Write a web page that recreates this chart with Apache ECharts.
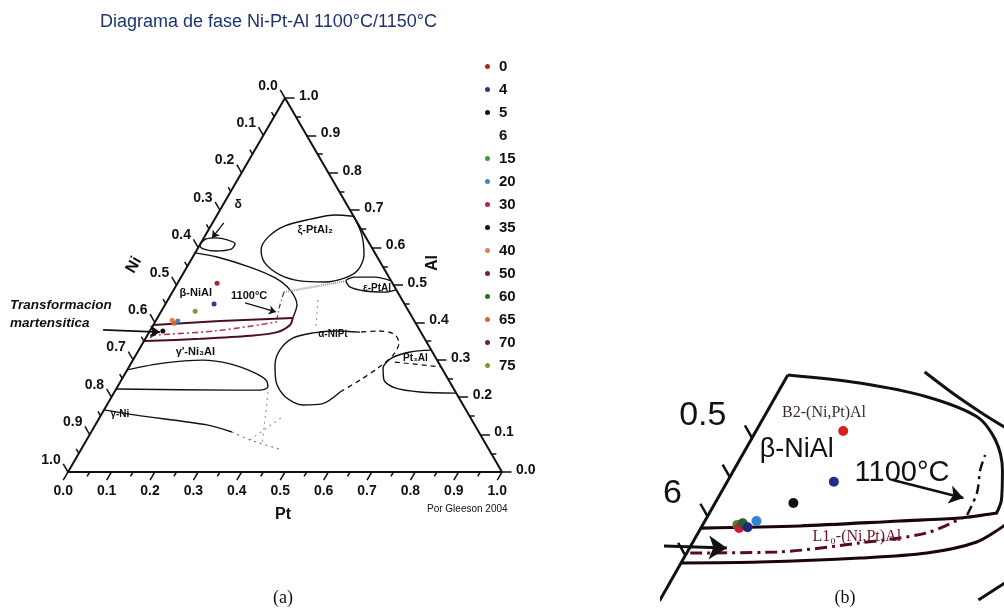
<!DOCTYPE html>
<html><head><meta charset="utf-8">
<script src="https://cdn.jsdelivr.net/npm/echarts@6/dist/echarts.min.js"></script>
<style>html,body{margin:0;padding:0;background:#fff}#c{width:1004px;height:616px}</style>
</head><body><div id="c"></div>
<script>
// ---------- legend / series names ----------
const legendLabels = ['0','4','5','6','15','20','30','35','40','50','60','65','70','75'];
const legendColors = ['#a8262c','#2c3a88','#151515','#ffffff','#4a9448','#3f86c8','#a8284e','#151515','#d9825a','#6a2250','#2e6a2e','#d8603e','#6c2038','#8e952e'];

// ---------- ternary axis ticks ----------
const tickValues = [0.0,0.1,0.2,0.3,0.4,0.5,0.6,0.7,0.8,0.9,1.0];
const tickLabels = ['0.0','0.1','0.2','0.3','0.4','0.5','0.6','0.7','0.8','0.9','1.0'];
const minorTickValues = [0.05,0.15,0.25,0.35,0.45,0.55,0.65,0.75,0.85,0.95];

// ---------- panel (a): phase boundaries, compositions [Pt, Al] ----------
const triangleEdges = [[0,0],[1,0],[0,1],[0,0]];
const deltaLoop = [[0.000,0.612],[0.006,0.623],[0.028,0.626],[0.059,0.620],[0.080,0.610],[0.078,0.596],[0.045,0.591],[0.015,0.596],[0.002,0.604],[0.000,0.612]];
const xiLoop = [[0.316,0.684],[0.272,0.687],[0.220,0.676],[0.171,0.658],[0.147,0.628],[0.148,0.594],[0.174,0.559],[0.225,0.527],[0.279,0.511],[0.338,0.508],[0.379,0.519],[0.398,0.540],[0.392,0.580],[0.360,0.634],[0.316,0.684]];
const epsLoop = [[0.489,0.511],[0.447,0.521],[0.401,0.521],[0.385,0.511],[0.402,0.495],[0.442,0.484],[0.490,0.481],[0.512,0.487]];
const betaBoundary = [[0.000,0.586],[0.056,0.575],[0.145,0.548],[0.218,0.519],[0.268,0.487],[0.304,0.447],[0.312,0.412]];
const l10Top = [[0.312,0.412],[0.148,0.404],[0.000,0.393]];
const l10Bottom = [[0.000,0.350],[0.126,0.356],[0.237,0.364],[0.295,0.374],[0.315,0.393],[0.312,0.412]];
const l10Dashed = [[0.006,0.366],[0.150,0.377],[0.281,0.401]];
const solvus1100 = [[0.257,0.481],[0.265,0.447],[0.276,0.412]];
const tieBetaEps = [[0.257,0.481],[0.387,0.511]];
const alphaSolid = [[0.486,0.374],[0.427,0.377],[0.379,0.372],[0.339,0.358],[0.325,0.326],[0.334,0.286],[0.359,0.241],[0.400,0.201],[0.452,0.179],[0.494,0.182],[0.520,0.214]];
const alphaDashed = [[0.520,0.214],[0.550,0.246],[0.575,0.278],[0.593,0.313],[0.590,0.345],[0.567,0.369],[0.526,0.377],[0.486,0.374]];
const gammaPrimeLoop = [[0.000,0.273],[0.073,0.291],[0.161,0.299],[0.229,0.289],[0.293,0.267],[0.333,0.246],[0.347,0.227],[0.333,0.219],[0.264,0.219],[0.000,0.222]];
const pt3AlLoop = [[0.673,0.326],[0.628,0.321],[0.594,0.305],[0.587,0.278],[0.605,0.246],[0.641,0.225],[0.704,0.214],[0.789,0.211]];
const pt3AlDashed = [[0.606,0.294],[0.719,0.281]];
const gammaNiLine = [[0.000,0.166],[0.081,0.152],[0.257,0.126],[0.324,0.107]];
const gammaNiDotted = [[0.324,0.107],[0.376,0.086],[0.464,0.059]];
const dottedTie1 = [[0.376,0.086],[0.420,0.147]];
const dottedTie2 = [[0.354,0.214],[0.411,0.072]];
const dottedTie3 = [[0.346,0.460],[0.381,0.380]];
const deltaArrow = [[0.026,0.666],[0.019,0.626]];
const arrow1100A = [[0.182,0.452],[0.265,0.428]];
const martensiteArrow = [[-0.109,0.380],[0.025,0.374]];

const phaseLabelsA = ['δ','ξ-PtAl₂','ε-PtAl','β-NiAl','1100°C','α-NiPt',"γ'-Ni₃Al",'γ-Ni','Pt₃Al'];
const phaseLabelCompA = [[0.035,0.714],[0.246,0.647],[0.466,0.492],[0.055,0.479],[0.182,0.471],[0.426,0.369],[0.133,0.321],[0.042,0.155],[0.648,0.305]];

// ---------- panel (a): measured alloys ----------
const pointSeriesA = ['0','4','75','40','65','20','35'];
const pointPtA = [0.091,0.112,0.078,0.037,0.045,0.051,0.030];
const pointAlA = [0.505,0.449,0.430,0.406,0.398,0.404,0.377];

// ---------- panel (b): zoom of beta region ----------
const edgeB = [[0,0.5805],[0,0.27]];
const betaTopB = [[0.000,0.5805],[0.086,0.5702],[0.171,0.5524],[0.240,0.5268],[0.275,0.4974],[0.302,0.4591],[0.320,0.4208],[0.323,0.4029]];
const l10TopB = [[0.000,0.385],[0.110,0.3876],[0.219,0.394],[0.285,0.3978],[0.323,0.4042]];
const l10BottomB = [[0.000,0.3404],[0.088,0.3416],[0.198,0.3467],[0.270,0.3531],[0.319,0.3672],[0.340,0.3889]];
const l10DashedB = [[0.004,0.3531],[0.101,0.3544],[0.188,0.3659],[0.257,0.3787],[0.287,0.3978]];
const solvusB = [[0.291,0.4017],[0.288,0.4298],[0.277,0.4591],[0.273,0.4783]];
const xiArcB = [[0.152,0.5843],[0.201,0.5549],[0.247,0.5294],[0.279,0.5128]];
const alphaArcB = [[0.358,0.2931],[0.378,0.3161]];
const arrowMartB = [[-0.030,0.3621],[0.042,0.3595]];
const arrow1100B = [[0.185,0.4464],[0.276,0.4234]];
const tickNiB = [0.5,0.55,0.6,0.65];
const tickLabelNiB = [0.5,0.6];
const tickLabelTextB = ['0.5','6'];
const phaseLabelsB = ['B2-(Ni,Pt)Al','β-NiAl','1100°C','L1₀-(Ni,Pt)Al'];
const phaseLabelCompB = [[0.065,0.532],[0.058,0.4847],[0.191,0.4553],[0.181,0.3736]];

const pointSeriesB = ['0','4','5','15','30','60','4','20'];
const pointPtB = [0.098,0.120,0.088,0.039,0.043,0.044,0.052,0.058];
const pointAlB = [0.509,0.444,0.417,0.389,0.385,0.391,0.386,0.394];
const pointColorB = ['#d42222','#1f2e8c','#111111','#4f7f34','#c41d3a','#2f5a2a','#1d2a80','#2f84d6'];

// ---------- projection of composition to the skewed cartesian frame ----------
const T = p => [p[0] + p[1] / 2, p[1]];
const A = 0, B = 1;
const series = [];
function line(data, g, style, extra) {
  series.push(Object.assign({type:'line', xAxisIndex:g, yAxisIndex:g, data:data.map(T), symbol:'none',
    silent:true, animation:false, clip:g===B, smooth:0.3, lineStyle:Object.assign({opacity:1}, style), z:3}, extra||{}));
}
function segs(list, g, style, arrow, size) {
  series.push({type:'lines', coordinateSystem:'cartesian2d', xAxisIndex:g, yAxisIndex:g, silent:true,
    animation:false, clip:g===B, polyline:false, symbol: arrow?['none','arrow']:['none','none'],
    symbolSize:size||8, lineStyle:Object.assign({opacity:1}, style), data:list.map(s=>({coords:s.map(T)})), z:4});
}
function texts(pos, labels, g, labelStyle, z) {
  series.push({type:'scatter', xAxisIndex:g, yAxisIndex:g, silent:true, animation:false, clip:false,
    symbolSize:1, itemStyle:{color:'rgba(0,0,0,0)', opacity:1}, data:pos.map(T),
    label:Object.assign({show:true, formatter:p=>labels[p.dataIndex]}, labelStyle), z:z||6});
}
const black = '#111';
const sans = "'Liberation Sans', Arial, sans-serif";
const serif = "'Liberation Serif', 'DejaVu Serif', serif";

// ---- panel (a) frame ----
line(triangleEdges, A, {color:black, width:2}, {smooth:false, z:5});
const dMaj = 0.022, dMin = 0.012;
const tickSegs = [];
tickValues.forEach(v => {
  tickSegs.push([[0,1-v],[-dMaj,1-v+dMaj]]);
  tickSegs.push([[1-v,v],[1-v+dMaj,v]]);
  tickSegs.push([[v,0],[v,-dMaj]]);
});
minorTickValues.forEach(v => {
  tickSegs.push([[0,1-v],[-dMin,1-v+dMin]]);
  tickSegs.push([[1-v,v],[1-v+dMin,v]]);
  tickSegs.push([[v,0],[v,-dMin]]);
});
segs(tickSegs, A, {color:black, width:1.5});
const tickFont = {fontFamily:sans, fontSize:14, fontWeight:'bold', color:black};
texts(tickValues.map(v=>[-dMaj,1-v+dMaj]), tickLabels, A, Object.assign({position:'left', distance:2, offset:[0,-4]}, tickFont));
texts(tickValues.map(v=>[1-v+dMaj,v]), tickLabels, A, Object.assign({position:'right', distance:4, offset:[0,-2]}, tickFont));
texts(tickValues.map(v=>[v,-dMaj]), tickLabels, A, Object.assign({position:'bottom', distance:3, offset:[0,0]}, tickFont));

// ---- panel (a) phase boundaries ----
const thin = {color:black, width:1.4};
line(deltaLoop, A, thin);
line(xiLoop, A, thin);
line(epsLoop, A, thin);
line(betaBoundary, A, thin);
line(l10Top, A, {color:'#4a0f1c', width:2}, {smooth:false});
line(l10Bottom, A, {color:'#4a0f1c', width:2});
line(l10Dashed, A, {color:'#b23a55', width:1.6, type:[6,3,2,3]});
line(solvus1100, A, {color:'#333', width:1.2, type:[5,3,1,3]});
line(tieBetaEps, A, {color:'#999', width:2.2, type:[1,1]}, {smooth:false});
line(alphaSolid, A, thin);
line(alphaDashed, A, {color:black, width:1.3, type:[5,4]});
line(gammaPrimeLoop, A, thin);
line(pt3AlLoop, A, thin);
line(pt3AlDashed, A, {color:black, width:1.2, type:[5,4]}, {smooth:false});
line(gammaNiLine, A, thin);
line(gammaNiDotted, A, {color:'#777', width:1.2, type:[2,4]});
line(dottedTie1, A, {color:'#999', width:1.2, type:[2,4]}, {smooth:false});
line(dottedTie2, A, {color:'#999', width:1.2, type:[2,4]}, {smooth:false});
line(dottedTie3, A, {color:'#999', width:1.2, type:[2,4]}, {smooth:false});
segs([deltaArrow, arrow1100A], A, {color:black, width:1.3}, true, 7);
segs([martensiteArrow], A, {color:black, width:1.6}, true, 10);
const phaseSizesA = [12,11,10,11,11,10,11,10,10];
series.push({type:'scatter', xAxisIndex:A, yAxisIndex:A, silent:true, animation:false, clip:false, symbolSize:1,
  itemStyle:{color:'rgba(0,0,0,0)', opacity:1}, z:7,
  data: phaseLabelCompA.map((p,i)=>({value:T(p), label:{fontSize:phaseSizesA[i]}})),
  label:{show:true, position:'inside', formatter:p=>phaseLabelsA[p.dataIndex], fontFamily:sans, fontWeight:'bold', color:black}});

// ---- panel (a) points (one series per legend entry) ----
legendLabels.forEach((name,i) => {
  const idx = pointSeriesA.map((s,j)=>s===name?j:-1).filter(j=>j>=0);
  series.push({type:'scatter', name, xAxisIndex:A, yAxisIndex:A, symbol:'circle', symbolSize:5, clip:false,
    animation:false, itemStyle:{color:legendColors[i], opacity:1}, data: idx.map(j=>T([pointPtA[j],pointAlA[j]])), z:9});
});

// ---- panel (b) ----
const thick = {color:black, width:3};
line(edgeB, B, thick, {smooth:false, z:5});
segs(tickNiB.map(n=>[[0,1-n],[-0.016,1-n+0.016]]), B, {color:black, width:2.5});
texts(tickLabelNiB.map(n=>[-0.016,1-n+0.016]), tickLabelTextB, B, {position:'left', distance:18, offset:[0,-10], fontFamily:sans, fontSize:34, color:black});
line(betaTopB, B, thick);
line(xiArcB, B, thick);
line(alphaArcB, B, thick, {smooth:false});
line(l10TopB, B, {color:'#1a0508', width:3.2});
line(l10BottomB, B, {color:'#1a0508', width:3});
line(l10DashedB, B, {color:'#5a0c1c', width:3, type:[12,5,3,5]});
line(solvusB, B, {color:black, width:2.5, type:[10,5,3,5]});
segs([arrow1100B], B, {color:black, width:2.5}, true, 14);
segs([arrowMartB], B, {color:black, width:3}, true, 18);
const phaseStyleB = [
  {fontFamily:serif, fontSize:16, color:'#3a2a2a'},
  {fontFamily:sans, fontSize:27, color:black},
  {fontFamily:sans, fontSize:29, color:black},
  {fontFamily:serif, fontSize:16, color:'#6a1422'}];
series.push({type:'scatter', xAxisIndex:B, yAxisIndex:B, silent:true, animation:false, clip:false, symbolSize:1,
  itemStyle:{color:'rgba(0,0,0,0)', opacity:1}, z:7,
  data: phaseLabelCompB.map((p,i)=>({value:T(p), label:phaseStyleB[i]})),
  label:{show:true, position:'inside', formatter:p=>phaseLabelsB[p.dataIndex]}});
pointSeriesB.forEach((name,j) => {
  series.push({type:'scatter', name, xAxisIndex:B, yAxisIndex:B, symbol:'circle', symbolSize:10, clip:true,
    animation:false, itemStyle:{color:pointColorB[j], opacity:1}, data:[T([pointPtB[j],pointAlB[j]])], z:9});
});

function gtext(x, y, text, font, color, align, rot) {
  return {type:'text', x, y, rotation:rot||0, silent:true, z:10,
    style:{text, font, fill:color, textAlign:align||'center', textVerticalAlign:'middle', align:align||'center', verticalAlign:'middle'}};
}

const chart = echarts.init(document.getElementById('c'), null, {renderer:'canvas'});
chart.setOption({
  animation:false,
  backgroundColor:'#ffffff',
  title:{text:'Diagrama de fase Ni-Pt-Al 1100°C/1150°C', left:95, top:8,
    textStyle:{color:'#1d3472', fontSize:18, fontWeight:'normal', fontFamily:sans}},
  legend:{data:legendLabels, orient:'vertical', left:485, top:59, padding:0, icon:'circle', itemWidth:5, itemHeight:5,
    itemGap:8, selectedMode:false, textStyle:{fontSize:15, fontWeight:'bold', color:black, fontFamily:sans, padding:[0,0,0,4]}},
  grid:[{left:68, top:98, width:434, height:374}, {left:662, top:370, width:342, height:230}],
  xAxis:[{gridIndex:0, type:'value', min:0, max:1, show:false}, {gridIndex:1, type:'value', min:0.1488, max:0.5333, show:false}],
  yAxis:[{gridIndex:0, type:'value', min:0, max:1, show:false}, {gridIndex:1, type:'value', min:0.2931, max:0.5868, show:false}],
  series,
  graphic:[
    gtext(134, 265, 'Ni', "bold 16px 'Liberation Sans', Arial", black, 'center', Math.PI/3),
    gtext(433, 263, 'Al', "bold 16px 'Liberation Sans', Arial", black, 'center', Math.PI/2),
    gtext(283, 515, 'Pt', "bold 16px 'Liberation Sans', Arial", black, 'center'),
    gtext(10, 305, 'Transformacion', "italic bold 13.5px 'Liberation Sans', Arial", black, 'left'),
    gtext(10, 323, 'martensitica', "italic bold 13.5px 'Liberation Sans', Arial", black, 'left'),
    gtext(427, 509, 'Por Gleeson 2004', "10px 'Liberation Sans', Arial", black, 'left'),
    gtext(283, 598, '(a)', "18px 'Liberation Serif', serif", black, 'center'),
    gtext(845, 598, '(b)', "18px 'Liberation Serif', serif", black, 'center')
  ]
});
</script></body></html>
